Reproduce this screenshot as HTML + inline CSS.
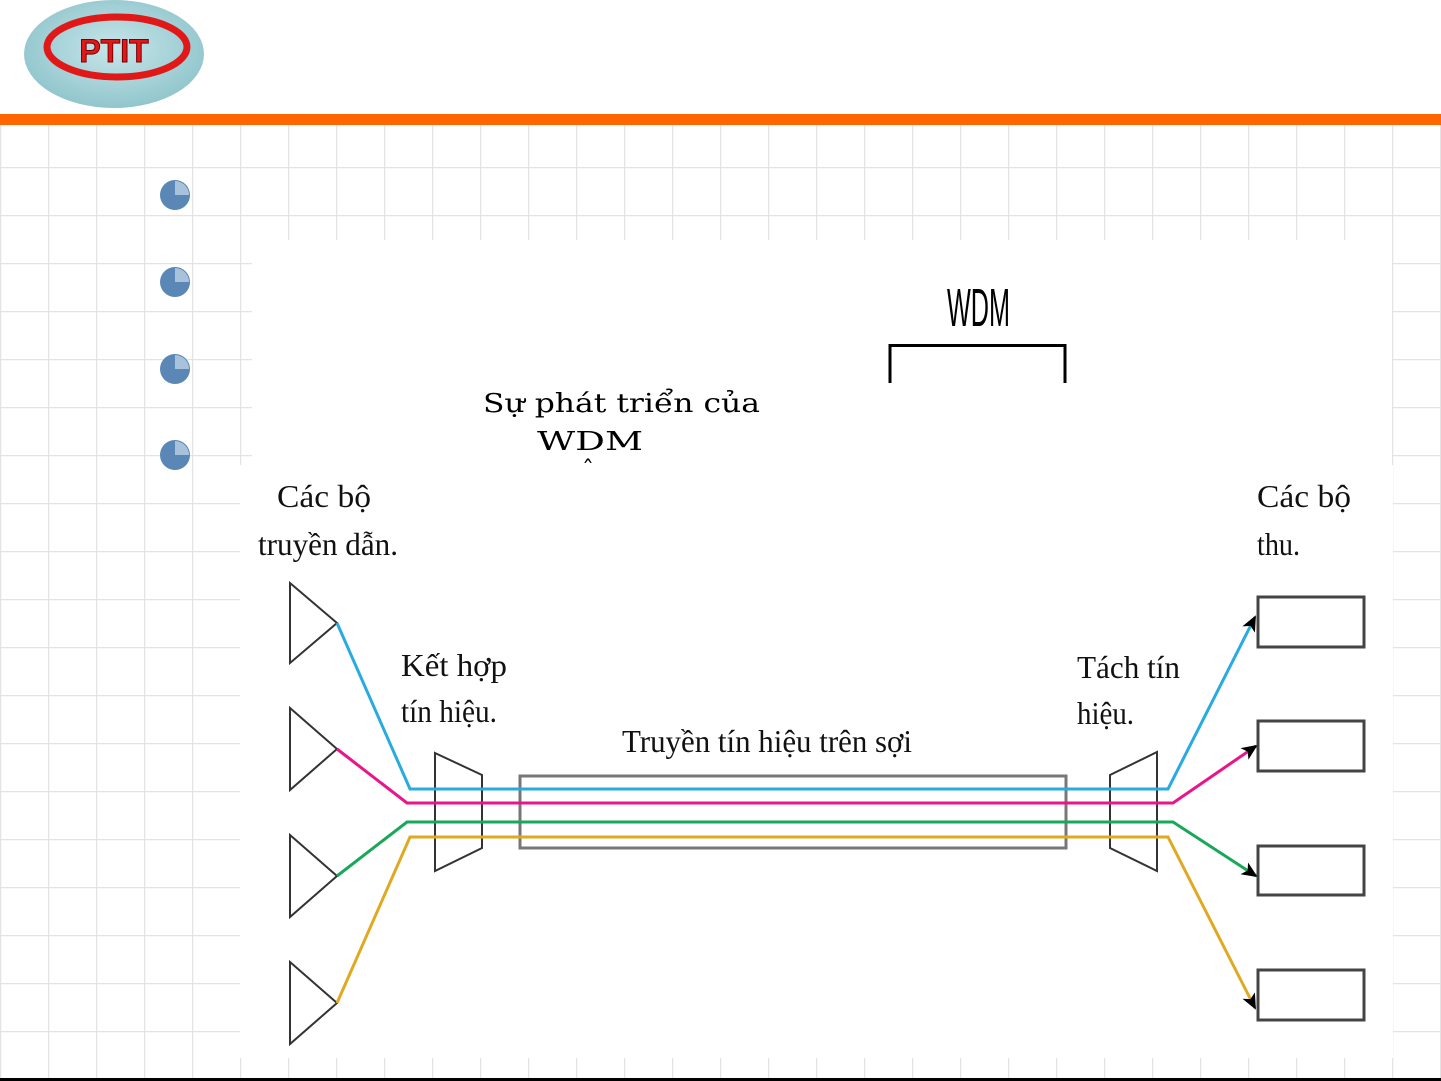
<!DOCTYPE html>
<html><head><meta charset="utf-8"><style>
html,body{margin:0;padding:0;background:#fff;}
svg{display:block;}
</style></head><body>
<svg width="1441" height="1081" viewBox="0 0 1441 1081" xmlns="http://www.w3.org/2000/svg">
<defs>
<pattern id="g" x="0" y="167" width="48" height="48" patternUnits="userSpaceOnUse">
<path d="M0 0H48M0 0V48" stroke="#e3e3e3" stroke-width="2.5" fill="none"/>
</pattern>
<radialGradient id="lg" cx="0.5" cy="0.45" r="0.6">
<stop offset="0" stop-color="#c7e6ea"/><stop offset="1" stop-color="#8cc3ca"/>
</radialGradient>
<marker id="ar" markerWidth="16" markerHeight="14" refX="14" refY="7" orient="auto" markerUnits="userSpaceOnUse">
<path d="M0 0L16 7L0 14L4 7Z" fill="#000"/>
</marker>
</defs>
<rect x="0" y="125" width="1441" height="956" fill="url(#g)"/>
<rect x="252" y="240" width="1140" height="230" fill="#fff"/>
<rect x="240" y="465" width="1153" height="593" fill="#fff"/>
<ellipse cx="114" cy="54" rx="90" ry="54" fill="url(#lg)"/>
<ellipse cx="117" cy="47" rx="70" ry="30" fill="none" stroke="#e01818" stroke-width="7"/>
<text x="114" y="62" text-anchor="middle" font-family="Liberation Sans,sans-serif" font-weight="bold" font-size="32" fill="#e01818" stroke="#7a0000" stroke-width="1">PTIT</text>
<rect x="0" y="114" width="1441" height="11" fill="#ff6600"/>
<g fill="#5a87b5">
<circle cx="175" cy="195" r="15"/><circle cx="175" cy="282" r="15"/><circle cx="175" cy="369" r="15"/><circle cx="175" cy="455" r="15"/>
</g>
<g fill="#a9c2dc">
<path d="M175 195V181A14 14 0 0 1 189 195Z"/><path d="M175 282V268A14 14 0 0 1 189 282Z"/><path d="M175 369V355A14 14 0 0 1 189 369Z"/><path d="M175 455V441A14 14 0 0 1 189 455Z"/>
</g>
<text x="947" y="326" font-family="Liberation Sans,sans-serif" font-size="54" textLength="63" lengthAdjust="spacingAndGlyphs">WDM</text>
<path d="M890 383V345.5H1065V383" fill="none" stroke="#000" stroke-width="3"/>
<text x="483" y="412" font-family="DejaVu Serif,serif" font-size="26" textLength="277" lengthAdjust="spacingAndGlyphs">Sự phát triển của</text>
<text x="537" y="450" font-family="DejaVu Serif,serif" font-size="26" textLength="106" lengthAdjust="spacingAndGlyphs">WDM</text>
<text x="582" y="478" font-family="DejaVu Serif,serif" font-size="24">ˆ</text>
<rect x="560" y="466" width="60" height="14" fill="#fff"/>
<g font-family="Liberation Serif,serif" font-size="32" fill="#111">
<text x="277" y="507" textLength="94" lengthAdjust="spacingAndGlyphs">Các bộ</text>
<text x="258" y="555" textLength="140" lengthAdjust="spacingAndGlyphs">truyền dẫn.</text>
<text x="401" y="676" textLength="106" lengthAdjust="spacingAndGlyphs">Kết hợp</text>
<text x="401" y="722" textLength="96" lengthAdjust="spacingAndGlyphs">tín hiệu.</text>
<text x="622" y="752" textLength="290" lengthAdjust="spacingAndGlyphs">Truyền tín hiệu trên sợi</text>
<text x="1077" y="678" textLength="103" lengthAdjust="spacingAndGlyphs">Tách tín</text>
<text x="1077" y="724" textLength="57" lengthAdjust="spacingAndGlyphs">hiệu.</text>
<text x="1257" y="507" textLength="94" lengthAdjust="spacingAndGlyphs">Các bộ</text>
<text x="1257" y="555" textLength="43" lengthAdjust="spacingAndGlyphs">thu.</text>
</g>
<g fill="none" stroke="#333" stroke-width="2">
<path d="M290 583L337 623L290 663Z"/>
<path d="M290 708L337 749L290 790Z"/>
<path d="M290 835L337 876L290 917Z"/>
<path d="M290 962L337 1003L290 1044Z"/>
<path d="M435 753L482 775V848L435 871Z"/>
<path d="M1110 775L1157 752V871L1110 848Z"/>
</g>
<rect x="520" y="776" width="546" height="72" fill="none" stroke="#777" stroke-width="3"/>
<g fill="none" stroke-width="3">
<path d="M337 623L410 789H1168L1255 617" stroke="#29aae1" marker-end="url(#ar)"/>
<path d="M337 749L407 803H1173L1256 746" stroke="#e8168a" marker-end="url(#ar)"/>
<path d="M337 876L407 822H1173L1256 876" stroke="#19a85a" marker-end="url(#ar)"/>
<path d="M337 1003L410 837H1168L1255 1008" stroke="#dfaa22" marker-end="url(#ar)"/>
</g>
<g fill="none" stroke="#444" stroke-width="3">
<rect x="1258" y="597" width="106" height="50"/>
<rect x="1258" y="721" width="106" height="50"/>
<rect x="1258" y="846" width="106" height="49"/>
<rect x="1258" y="970" width="106" height="50"/>
</g>
<rect x="0" y="1078" width="1441" height="3" fill="#000"/>
</svg>
</body></html>
